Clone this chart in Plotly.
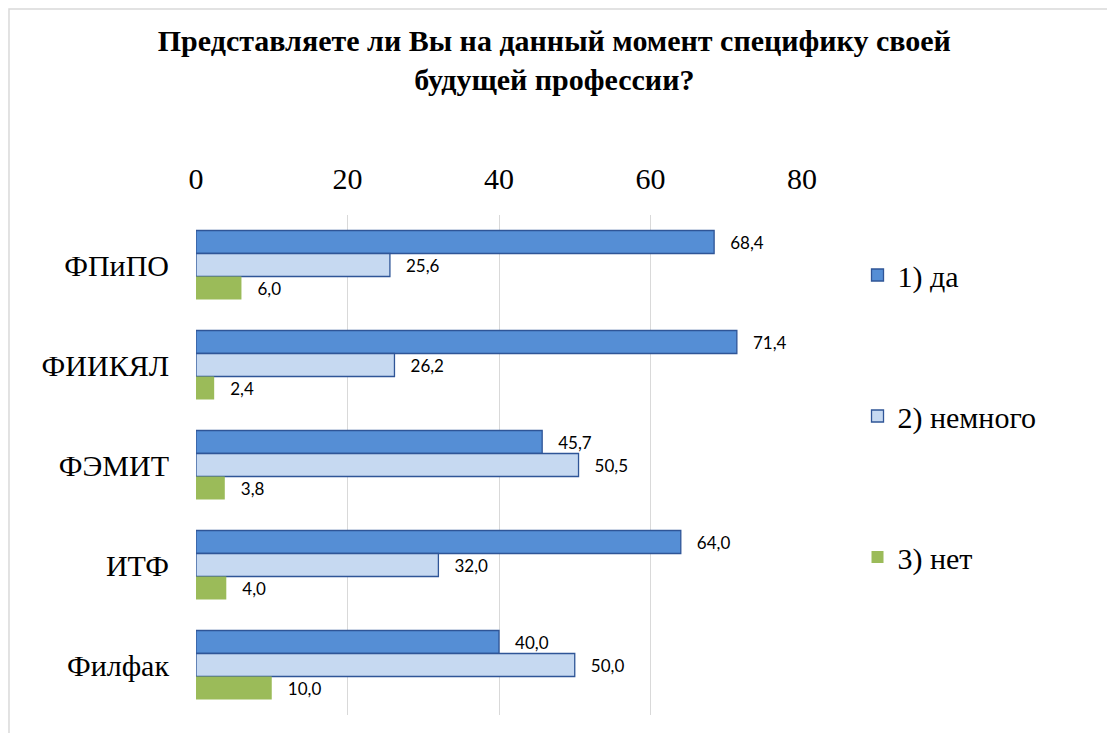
import plotly.graph_objects as go

categories = ["ФПиПО", "ФИИКЯЛ", "ФЭМИТ", "ИТФ", "Филфак"]
series_names = ["1) да", "2) немного", "3) нет"]
values_da = [68.4, 71.4, 45.7, 64.0, 40.0]
values_nemnogo = [25.6, 26.2, 50.5, 32.0, 50.0]
values_net = [6.0, 2.4, 3.8, 4.0, 10.0]
x_ticks = [0, 20, 40, 60, 80]

series_values = [values_da, values_nemnogo, values_net]
fills = ["#558ED5", "#C6D9F1", "#9BBB59"]
outlines = ["#2F5597", "#2F5597", "#9BBB59"]
outline_w = [1.3, 1.3, 0]

SERIF = "Liberation Serif"
SANS = "Lato"

fig = go.Figure()
for i, (name, vals) in enumerate(zip(series_names, series_values)):
    labels = ["\u00a0\u00a0\u00a0" + f"{v:.1f}".replace(".", ",") for v in vals]
    fig.add_trace(go.Bar(
        y=categories, x=vals, name=name, orientation="h",
        marker=dict(color=fills[i], line=dict(color=outlines[i], width=outline_w[i])),
        text=labels, textposition="outside", cliponaxis=False,
        constraintext="none",
        textfont=dict(family=SANS, size=17, color="#000000"),
        legendgroup=f"g{i}",
    ))

fig.update_layout(
    width=1115, height=733,
    paper_bgcolor="white", plot_bgcolor="white",
    barmode="group", bargap=0.31, bargroupgap=0,
    margin=dict(l=188, r=321, t=207, b=26, autoexpand=False),
    title=dict(
        text="<b>Представляете ли Вы на данный момент специфику своей<br>будущей профессии?</b>",
        x=0.49, xref="container", xanchor="center",
        y=1 - 43 / 733, yref="container", yanchor="middle",
        font=dict(family=SERIF, size=30, color="#000000"),
    ),
    xaxis=dict(
        side="top", range=[0, 80], tickvals=x_ticks, showgrid=True,
        gridcolor="#D9D9D9", gridwidth=1, zeroline=False, showline=False,
        ticks="", tickfont=dict(family=SERIF, size=30, color="#000000"),
        ticklabelstandoff=19, automargin=False,
    ),
    yaxis=dict(
        autorange="reversed", showgrid=False, zeroline=False, showline=False,
        ticks="", tickfont=dict(family=SERIF, size=30, color="#000000"),
        ticklabelstandoff=26, automargin=False,
    ),
    legend=dict(
        x=1.0916, xanchor="left", y=0.932, yanchor="top",
        font=dict(family=SERIF, size=30, color="#000000"),
        traceorder="grouped", tracegroupgap=99,
        itemwidth=30, bgcolor="rgba(0,0,0,0)",
    ),
    showlegend=True,
)

fig.add_shape(type="rect", xref="paper", yref="paper",
              x0=-0.3086, x1=1.7, y0=-0.2, y1=1.412,
              line=dict(color="#D9D9D9", width=1.5), fillcolor="rgba(0,0,0,0)", layer="below")

fig.write_html("out.html")
